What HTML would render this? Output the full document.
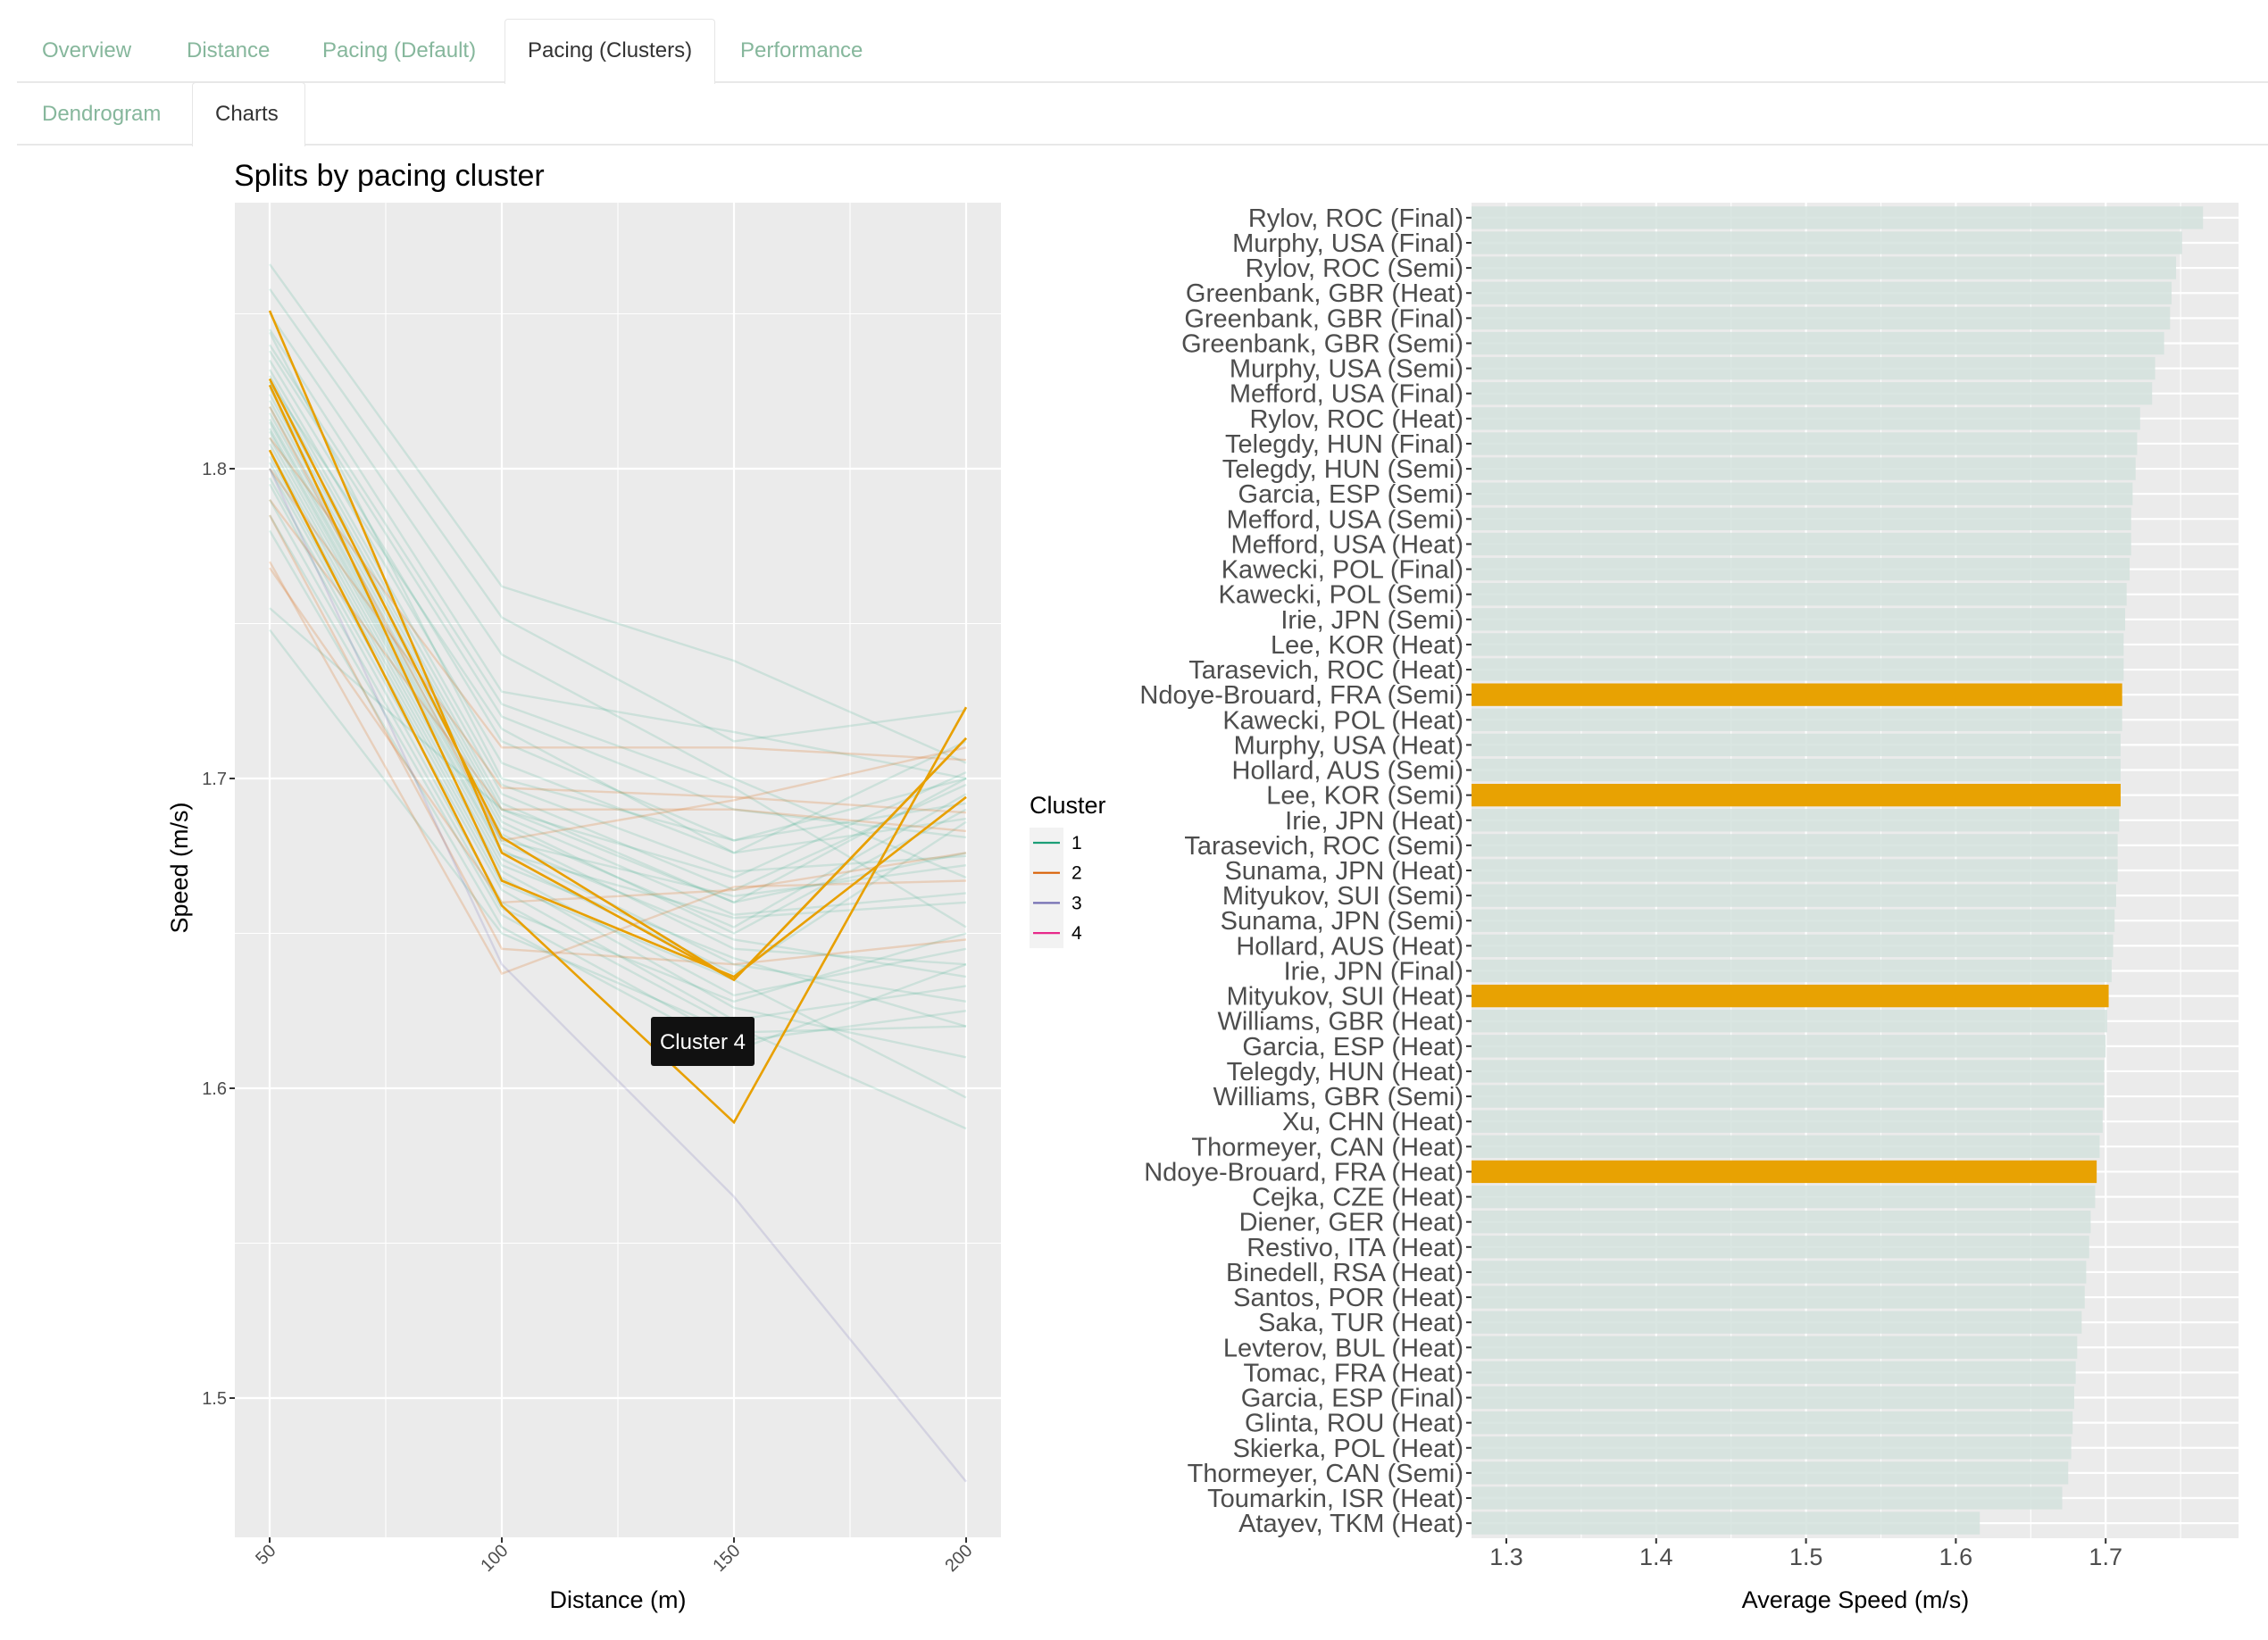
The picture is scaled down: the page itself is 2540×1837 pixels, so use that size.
<!DOCTYPE html>
<html><head><meta charset="utf-8">
<style>
html,body{margin:0;padding:0;background:#fff;width:2540px;height:1837px;overflow:hidden;font-family:"Liberation Sans",sans-serif;}
.tab{position:absolute;font-size:24px;color:#86b79c;cursor:pointer;}
.tab.active{color:#333;}
.tabbox{position:absolute;border:1.5px solid #e6e6e6;border-bottom:none;background:#fff;border-radius:4px 4px 0 0;}
.hline{position:absolute;height:1.5px;background:#e8e8e8;}
</style></head><body>
<div class="hline" style="left:19px;top:91px;width:2521px"></div>
<div class="tabbox" style="left:565px;top:21px;width:234px;height:72px"></div>
<div class="tab" style="left:47px;top:43px">Overview</div>
<div class="tab" style="left:209px;top:43px">Distance</div>
<div class="tab" style="left:361px;top:43px">Pacing (Default)</div>
<div class="tab active" style="left:591px;top:43px">Pacing (Clusters)</div>
<div class="tab" style="left:829px;top:43px">Performance</div>
<div class="hline" style="left:19px;top:161px;width:2521px"></div>
<div class="tabbox" style="left:215px;top:92px;width:125px;height:71px"></div>
<div class="tab" style="left:47px;top:114px">Dendrogram</div>
<div class="tab active" style="left:241px;top:114px">Charts</div>

<svg id="chart" width="2540" height="1837" style="position:absolute;left:0;top:0"></svg>
<script>
// ---- Left chart data ----
const distances = [50, 100, 150, 200];
const xTicks = [50, 100, 150, 200];
const yTicks = [1.5, 1.6, 1.7, 1.8];
const cluster1Lines = [
[1.866,1.762,1.738,1.705],[1.858,1.752,1.712,1.722],[1.850,1.740,1.700,1.668],[1.845,1.728,1.715,1.700],
[1.840,1.724,1.697,1.652],[1.838,1.720,1.690,1.681],[1.835,1.712,1.680,1.692],[1.832,1.705,1.676,1.687],
[1.830,1.698,1.670,1.675],[1.828,1.695,1.664,1.698],[1.826,1.692,1.660,1.700],[1.824,1.690,1.668,1.702],
[1.822,1.688,1.656,1.663],[1.820,1.686,1.650,1.690],[1.818,1.684,1.652,1.695],[1.816,1.682,1.645,1.640],
[1.815,1.680,1.662,1.672],[1.813,1.679,1.648,1.636],[1.812,1.677,1.640,1.628],[1.810,1.676,1.655,1.660],
[1.808,1.674,1.637,1.686],[1.806,1.672,1.642,1.620],[1.804,1.670,1.630,1.645],[1.802,1.668,1.626,1.610],
[1.800,1.666,1.635,1.597],[1.797,1.664,1.622,1.633],[1.795,1.660,1.620,1.587],[1.790,1.658,1.628,1.650],
[1.785,1.656,1.615,1.625],[1.780,1.652,1.612,1.640],[1.755,1.690,1.660,1.676],[1.748,1.650,1.618,1.620],
[1.844,1.700,1.680,1.700],[1.828,1.716,1.676,1.712]];
const cluster2Lines = [
[1.810,1.710,1.710,1.706],[1.800,1.697,1.694,1.689],[1.790,1.690,1.690,1.683],[1.768,1.660,1.664,1.676],
[1.785,1.645,1.640,1.648],[1.770,1.637,1.665,1.667],[1.820,1.680,1.693,1.710]];
const cluster3Lines = [[1.800,1.640,1.565,1.473]];
const cluster4Lines = [
[1.851,1.676,1.635,1.713],[1.829,1.681,1.635,1.713],[1.827,1.667,1.636,1.694],[1.806,1.659,1.589,1.723]];
const legendLabels = ["1","2","3","4"];
const legendColors = ["#1B9E77","#D95F02","#7570B3","#E7298A"];

// ---- Right chart data ----
const swimmers = ["Rylov, ROC (Final)","Murphy, USA (Final)","Rylov, ROC (Semi)","Greenbank, GBR (Heat)","Greenbank, GBR (Final)","Greenbank, GBR (Semi)","Murphy, USA (Semi)","Mefford, USA (Final)","Rylov, ROC (Heat)","Telegdy, HUN (Final)","Telegdy, HUN (Semi)","Garcia, ESP (Semi)","Mefford, USA (Semi)","Mefford, USA (Heat)","Kawecki, POL (Final)","Kawecki, POL (Semi)","Irie, JPN (Semi)","Lee, KOR (Heat)","Tarasevich, ROC (Heat)","Ndoye-Brouard, FRA (Semi)","Kawecki, POL (Heat)","Murphy, USA (Heat)","Hollard, AUS (Semi)","Lee, KOR (Semi)","Irie, JPN (Heat)","Tarasevich, ROC (Semi)","Sunama, JPN (Heat)","Mityukov, SUI (Semi)","Sunama, JPN (Semi)","Hollard, AUS (Heat)","Irie, JPN (Final)","Mityukov, SUI (Heat)","Williams, GBR (Heat)","Garcia, ESP (Heat)","Telegdy, HUN (Heat)","Williams, GBR (Semi)","Xu, CHN (Heat)","Thormeyer, CAN (Heat)","Ndoye-Brouard, FRA (Heat)","Cejka, CZE (Heat)","Diener, GER (Heat)","Restivo, ITA (Heat)","Binedell, RSA (Heat)","Santos, POR (Heat)","Saka, TUR (Heat)","Levterov, BUL (Heat)","Tomac, FRA (Heat)","Garcia, ESP (Final)","Glinta, ROU (Heat)","Skierka, POL (Heat)","Thormeyer, CAN (Semi)","Toumarkin, ISR (Heat)","Atayev, TKM (Heat)"];
const avgSpeeds = [1.765,1.751,1.747,1.744,1.743,1.739,1.733,1.731,1.723,1.721,1.720,1.718,1.717,1.717,1.716,1.714,1.713,1.712,1.712,1.711,1.711,1.710,1.710,1.710,1.709,1.708,1.708,1.707,1.706,1.705,1.704,1.702,1.701,1.700,1.699,1.699,1.698,1.696,1.694,1.693,1.690,1.689,1.687,1.686,1.684,1.681,1.680,1.679,1.678,1.677,1.675,1.671,1.616];
const highlighted = [0,0,0,0,0,0,0,0,0,0,0,0,0,0,0,0,0,0,0,1,0,0,0,1,0,0,0,0,0,0,0,1,0,0,0,0,0,0,1,0,0,0,0,0,0,0,0,0,0,0,0,0,0];
const speedTicks = [1.3,1.4,1.5,1.6,1.7];

const NS="http://www.w3.org/2000/svg";
const svg=document.getElementById('chart');
function mk(tag,attrs,parent){const e=document.createElementNS(NS,tag);for(const k in attrs)e.setAttribute(k,attrs[k]);(parent||svg).appendChild(e);return e;}

// Left axes
const L={x0:263,x1:1121,y0:227,y1:1722};
const xs=d=>302+(d-50)*(1082-302)/150;
const ys=v=>525+(1.8-v)*3470;
let g=mk('g',{});


mk('rect',{x:L.x0,y:L.y0,width:L.x1-L.x0,height:L.y1-L.y0,fill:'#EBEBEB'},g);
[75,125,175].forEach(d=>mk('line',{x1:xs(d),x2:xs(d),y1:L.y0,y2:L.y1,stroke:'#fff','stroke-width':1.1},g));
[1.55,1.65,1.75,1.85].forEach(v=>mk('line',{x1:L.x0,x2:L.x1,y1:ys(v),y2:ys(v),stroke:'#fff','stroke-width':1.1},g));
xTicks.forEach(d=>mk('line',{x1:xs(d),x2:xs(d),y1:L.y0,y2:L.y1,stroke:'#fff','stroke-width':2.2},g));
yTicks.forEach(v=>mk('line',{x1:L.x0,x2:L.x1,y1:ys(v),y2:ys(v),stroke:'#fff','stroke-width':2.2},g));
function pts(arr){return arr.map((v,i)=>xs(distances[i])+','+ys(v)).join(' ');}
cluster1Lines.forEach(a=>{const p=mk('polyline',{points:pts(a),fill:'none',stroke:'#1B9E77','stroke-opacity':0.15,'stroke-width':2.4},g);

});
cluster2Lines.forEach(a=>{const p=mk('polyline',{points:pts(a),fill:'none',stroke:'#D95F02','stroke-opacity':0.2,'stroke-width':2.4},g);

});
cluster3Lines.forEach(a=>{const p=mk('polyline',{points:pts(a),fill:'none',stroke:'#7570B3','stroke-opacity':0.2,'stroke-width':2.4},g);

});
cluster4Lines.forEach(a=>{const p=mk('polyline',{points:pts(a),fill:'none',stroke:'#E8A000','stroke-width':2.6},g);

});
yTicks.forEach(v=>{mk('line',{x1:L.x0-6,x2:L.x0,y1:ys(v),y2:ys(v),stroke:'#333','stroke-width':2},g);
const t=mk('text',{x:L.x0-9,y:ys(v)+7,'text-anchor':'end','font-size':20,fill:'#4d4d4d'},g);t.textContent=v.toFixed(1);

});
xTicks.forEach(d=>{mk('line',{x1:xs(d),x2:xs(d),y1:L.y1,y2:L.y1+6,stroke:'#333','stroke-width':2},g);
const t=mk('text',{x:xs(d)+8,y:L.y1+16,'text-anchor':'end','font-size':20,fill:'#4d4d4d',transform:`rotate(-45 ${xs(d)+8} ${L.y1+16})`},g);t.textContent=d;

});
let t=mk('text',{x:262,y:208,'font-size':34,fill:'#000'});t.textContent='Splits by pacing cluster';


t=mk('text',{x:210,y:972,'font-size':27,fill:'#000','text-anchor':'middle',transform:'rotate(-90 210 972)'});t.textContent='Speed (m/s)';


t=mk('text',{x:692,y:1801,'font-size':27,fill:'#000','text-anchor':'middle'});t.textContent='Distance (m)';


// legend
t=mk('text',{x:1153,y:911,'font-size':27,fill:'#000'});t.textContent='Cluster';


legendLabels.forEach((l,i)=>{const cy=944+i*33.7;
const lg=mk('g',{});


mk('rect',{x:1153,y:cy-17,width:38,height:34,fill:'#F2F2F2'},lg);
mk('line',{x1:1157,x2:1187,y1:cy,y2:cy,stroke:legendColors[i],'stroke-width':2.2},lg);
const tt=mk('text',{x:1200,y:cy+7,'font-size':21,fill:'#000'},lg);tt.textContent=l;});
// tooltip
const tg=mk('g',{});


mk('rect',{x:729,y:1139,width:116,height:55,rx:3,fill:'#111'},tg);
t=mk('text',{x:787,y:1175,'font-size':24,fill:'#fff','text-anchor':'middle'},tg);t.textContent='Cluster 4';

// Right chart
const R={x0:1648,x1:2507,y0:227,y1:1723};
const sx=v=>1687+(v-1.3)*1678;
const n=swimmers.length;
const step=(R.y1-R.y0)/(n-1+1.2);
const sy=i=>R.y0+step*(0.6+i);
const rg=mk('g',{});


mk('rect',{x:R.x0,y:R.y0,width:R.x1-R.x0,height:R.y1-R.y0,fill:'#EBEBEB'},rg);
[1.35,1.45,1.55,1.65,1.75].forEach(v=>mk('line',{x1:sx(v),x2:sx(v),y1:R.y0,y2:R.y1,stroke:'#fff','stroke-width':1.1},rg));
speedTicks.forEach(v=>mk('line',{x1:sx(v),x2:sx(v),y1:R.y0,y2:R.y1,stroke:'#fff','stroke-width':2.2},rg));
swimmers.forEach((s,i)=>mk('line',{x1:R.x0,x2:R.x1,y1:sy(i),y2:sy(i),stroke:'#fff','stroke-width':2.2},rg));
swimmers.forEach((s,i)=>{const bh=step*0.9;
const b=mk('rect',{x:R.x0,y:sy(i)-bh/2,width:sx(avgSpeeds[i])-R.x0,height:bh,fill:highlighted[i]?'#E8A202':'#D4E2DD','fill-opacity':highlighted[i]?1:0.85},rg);


mk('line',{x1:R.x0-6,x2:R.x0,y1:sy(i),y2:sy(i),stroke:'#333','stroke-width':2},rg);
const l=mk('text',{x:R.x0-9,y:sy(i)+10,'text-anchor':'end','font-size':29,fill:'#4d4d4d'},rg);l.textContent=s;

});
speedTicks.forEach(v=>{mk('line',{x1:sx(v),x2:sx(v),y1:R.y1,y2:R.y1+6,stroke:'#333','stroke-width':2},rg);
const l=mk('text',{x:sx(v),y:R.y1+30,'text-anchor':'middle','font-size':27,fill:'#4d4d4d'},rg);l.textContent=v.toFixed(1);

});
t=mk('text',{x:2078,y:1801,'font-size':27,fill:'#000','text-anchor':'middle'});t.textContent='Average Speed (m/s)';


</script>
</body></html>
